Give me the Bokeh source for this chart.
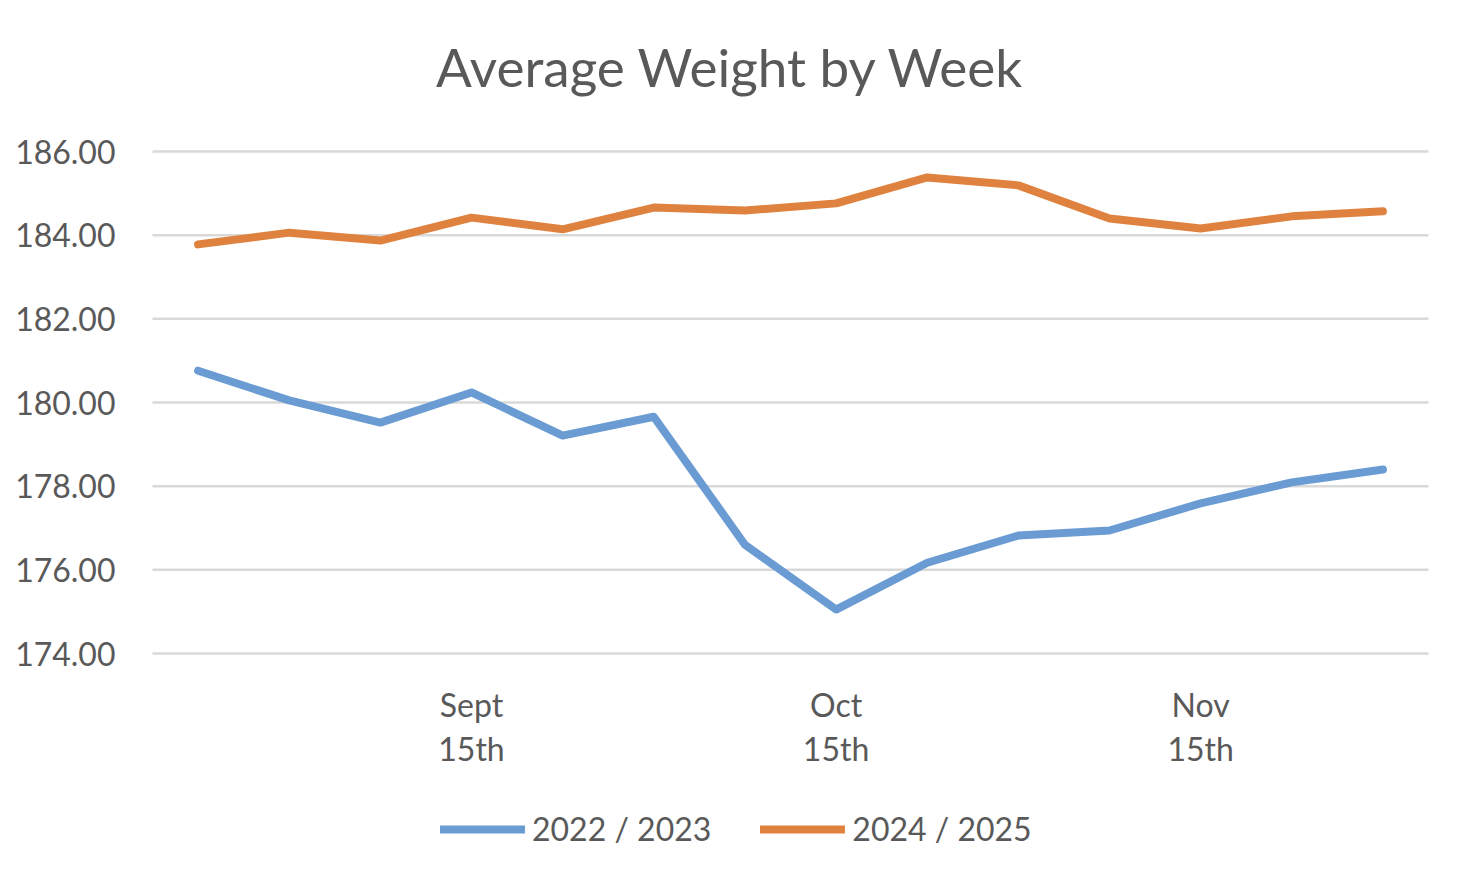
from bokeh.plotting import figure
from bokeh.models import Range1d, FixedTicker, Legend, LegendItem, Label
from bokeh.embed import file_html
from bokeh.resources import INLINE

title_text = "Average Weight by Week"
weeks = ["Aug 25th", "Sept 1st", "Sept 8th", "Sept\n15th", "Sept 22nd", "Sept 29th",
         "Oct 6th", "Oct\n15th", "Oct 20th", "Oct 27th", "Nov 3rd", "Nov\n15th",
         "Nov 17th", "Nov 24th"]
shown_labels = {3: "Sept\n15th", 7: "Oct\n15th", 11: "Nov\n15th"}
season_2022 = [180.76, 180.05, 179.52, 180.24, 179.21, 179.66, 176.60,
               175.05, 176.17, 176.82, 176.94, 177.59, 178.09, 178.40]
season_2024 = [183.78, 184.06, 183.87, 184.42, 184.14, 184.66, 184.59,
               184.76, 185.38, 185.19, 184.40, 184.16, 184.45, 184.57]
y_ticks = [174, 176, 178, 180, 182, 184, 186]
y_min, y_max = 174, 186

FONT = "Lato"
TXT = "#595959"
BLUE = "#6A9BD3"
ORANGE = "#E0823F"
GRID = "#D9D9D9"

# layout in pixels (frame covers the whole canvas)
W, H = 1465, 886
TOP = 151                 # y_max gridline
PLOT_L, PLOT_R = 152, 1428
PLOT_B = 653              # y_min gridline
TITLE_X, TITLE_BASE = 730, 66

n = len(weeks)
xs = list(range(n))
x_step = (PLOT_R - PLOT_L) / n
x_start = -0.5 - PLOT_L / x_step
x_end = n - 0.5 + (W - PLOT_R) / x_step
y_step = (PLOT_B - TOP) / (y_max - y_min)
y_start = y_min - (H - PLOT_B) / y_step
y_end = y_max + TOP / y_step

p = figure(width=W, height=H, output_backend="svg", toolbar_location=None,
           x_range=Range1d(x_start, x_end), y_range=Range1d(y_start, y_end),
           min_border_left=0, min_border_right=0, min_border_top=0,
           min_border_bottom=0)
p.outline_line_color = None
p.background_fill_color = "white"
p.border_fill_color = "white"
p.xgrid.visible = False
p.ygrid.visible = False

p.add_layout(Label(x=TITLE_X, y=H - TITLE_BASE, x_units="screen", y_units="screen",
                   text=title_text, text_align="center", text_baseline="alphabetic",
                   text_font=FONT, text_font_size="53px", text_color=TXT))

# horizontal gridlines across the category span
p.segment(x0=[-0.5] * len(y_ticks), x1=[n - 0.5] * len(y_ticks), y0=y_ticks, y1=y_ticks,
          line_color=GRID, line_width=2.5)

r1 = p.line(xs, season_2022, line_color=BLUE, line_width=8, line_cap="round", line_join="round")
r2 = p.line(xs, season_2024, line_color=ORANGE, line_width=8, line_cap="round", line_join="round")

p.xaxis.fixed_location = y_min
p.xaxis.ticker = FixedTicker(ticks=list(shown_labels.keys()))
p.xaxis.major_label_overrides = shown_labels
p.xaxis.axis_line_color = None
p.xaxis.major_tick_line_color = None
p.xaxis.minor_tick_line_color = None
p.xaxis.major_tick_out = 0
p.xaxis.major_tick_in = 0
p.xaxis.major_label_text_font = FONT
p.xaxis.major_label_text_font_size = "32px"
p.xaxis.major_label_text_color = TXT
p.xaxis.major_label_text_line_height = 1.13
p.xaxis.major_label_standoff = 31

p.yaxis.fixed_location = -0.5
p.yaxis.ticker = FixedTicker(ticks=y_ticks)
p.yaxis.major_label_overrides = {t: f"{t:.2f}" for t in y_ticks}
p.yaxis.axis_line_color = None
p.yaxis.major_tick_line_color = None
p.yaxis.minor_tick_line_color = None
p.yaxis.major_tick_out = 0
p.yaxis.major_tick_in = 0
p.yaxis.major_label_text_font = FONT
p.yaxis.major_label_text_font_size = "32px"
p.yaxis.major_label_text_color = TXT
p.yaxis.major_label_standoff = 37

legend = Legend(items=[LegendItem(label="2022 / 2023", renderers=[r1]),
                       LegendItem(label="2024 / 2025", renderers=[r2])],
                location=(440, 38), orientation="horizontal",
                glyph_width=85, glyph_height=30, label_standoff=7, spacing=49,
                padding=0, margin=0, border_line_color=None,
                background_fill_alpha=0, label_text_font=FONT,
                label_text_font_size="32px", label_text_color=TXT)
p.add_layout(legend, "center")

open("out.html", "w").write(file_html(p, INLINE))
